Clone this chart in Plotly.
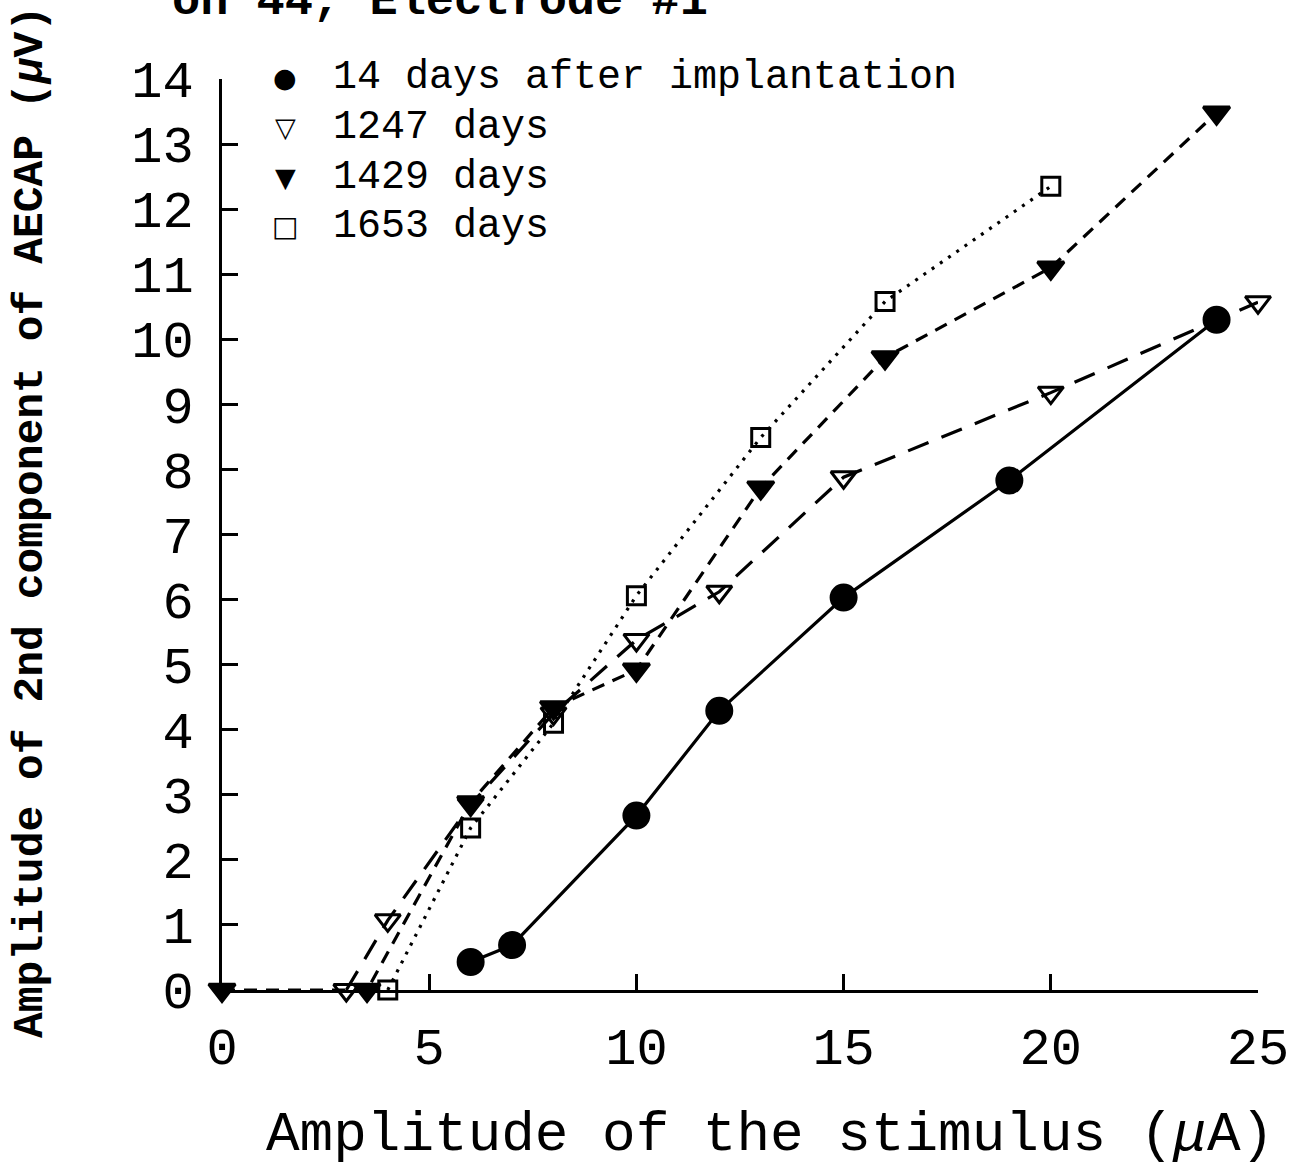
import plotly.graph_objects as go

# ---- data ----
x_14 = [6, 7, 10, 12, 15, 19, 24]
y_14 = [0.43, 0.69, 2.68, 4.29, 6.03, 7.83, 10.3]

x_1247 = [3, 4, 6, 8, 10, 12, 15, 20, 25]
y_1247 = [0, 1.07, 2.85, 4.25, 5.38, 6.12, 7.88, 9.18, 10.57]

x_1429 = [0, 3.5, 6, 8, 10, 13, 16, 20, 24]
y_1429 = [0, 0, 2.88, 4.34, 4.92, 7.72, 9.72, 11.1, 13.48]

x_1653 = [4, 6, 8, 10, 13, 16, 20]
y_1653 = [0, 2.49, 4.1, 6.06, 8.49, 10.58, 12.35]

labels = ["14 days after implantation", "1247 days", "1429 days", "1653 days"]
legend_glyphs = ["●", "▽", "▼", "□"]
x_ticks = [0, 5, 10, 15, 20, 25]
y_ticks = list(range(0, 15))

MONO = "Liberation Mono, Courier New, monospace"

series = [
    (x_14, y_14, "circle", 25, "solid"),
    (x_1247, y_1247, "triangle-down-open", 22, "22px,14px"),
    (x_1429, y_1429, "triangle-down", 23, "13px,9px"),
    (x_1653, y_1653, "square-open", 18, "3px,7px"),
]

fig = go.Figure()
for (xs, ys, sym, sz, dash), name in zip(series, labels):
    fig.add_trace(go.Scatter(
        x=xs, y=ys, mode="lines+markers", name=name, showlegend=False, cliponaxis=False,
        line=dict(color="black", width=3.2, dash=dash),
        marker=dict(symbol=sym, size=sz, color="black", line=dict(color="black", width=3)),
    ))

# geometry of the plot area in pixels (for placing text in paper coords)
L, R, T, B = 222, 1258, 79, 990
def px(xp):
    return (xp - L) / (R - L)
def py(yp):
    return (B - yp) / (B - T)

annotations = [
    dict(text="Amplitude of the stimulus (<i>μ</i>A)", xref="paper", yref="paper",
         x=px(770), y=py(1135), xanchor="center", yanchor="middle", showarrow=False,
         font=dict(family=MONO, size=56, color="black")),
    dict(text="<b>Amplitude of 2nd component of AECAP (<i>μ</i>V)</b>", xref="paper", yref="paper",
         x=px(30), y=py(522), xanchor="center", yanchor="middle", showarrow=False, textangle=-90,
         font=dict(family=MONO, size=43, color="black")),
    dict(text="<b>on 44, Electrode #1</b>", xref="paper", yref="paper",
         x=px(170), y=py(30), xanchor="left", yanchor="bottom", showarrow=False,
         font=dict(family=MONO, size=47, color="black")),
]
row_y = [78, 128, 177, 226]
glyph_sizes = [27, 27, 27, 28]
for g, lab, yy, gs in zip(legend_glyphs, labels, row_y, glyph_sizes):
    annotations.append(dict(text="<b>" + g + "</b>", xref="paper", yref="paper", x=px(285), y=py(yy),
                            xanchor="center", yanchor="middle", showarrow=False,
                            font=dict(family="DejaVu Sans", size=gs, color="black")))
    annotations.append(dict(text=lab, xref="paper", yref="paper", x=px(331), y=py(yy),
                            xanchor="left", yanchor="middle", showarrow=False,
                            font=dict(family=MONO, size=40, color="black")))

fig.update_layout(
    width=1294, height=1170,
    margin=dict(l=L, r=1294 - R, t=T, b=1170 - B),
    paper_bgcolor="white", plot_bgcolor="white",
    showlegend=False,
    xaxis=dict(range=[0, 25], tickvals=x_ticks, ticktext=[str(v) for v in x_ticks],
               automargin=False,
               showgrid=False, zeroline=False, showline=True, linecolor="black", linewidth=3,
               ticks="inside", ticklen=16, tickwidth=3, tickcolor="black",
               tickfont=dict(family=MONO, size=52, color="black"), ticklabelstandoff=9),
    yaxis=dict(range=[0, 14], tickvals=y_ticks, ticktext=[str(v) for v in y_ticks],
               automargin=False,
               showgrid=False, zeroline=False, showline=True, linecolor="black", linewidth=3,
               ticks="inside", ticklen=16, tickwidth=3, tickcolor="black",
               tickfont=dict(family=MONO, size=52, color="black"), ticklabelstandoff=15),
    annotations=annotations,
)

fig.write_html("out.html", config={"displayModeBar": False},
               post_script="document.body.style.margin='0';document.body.style.overflow='hidden';")
